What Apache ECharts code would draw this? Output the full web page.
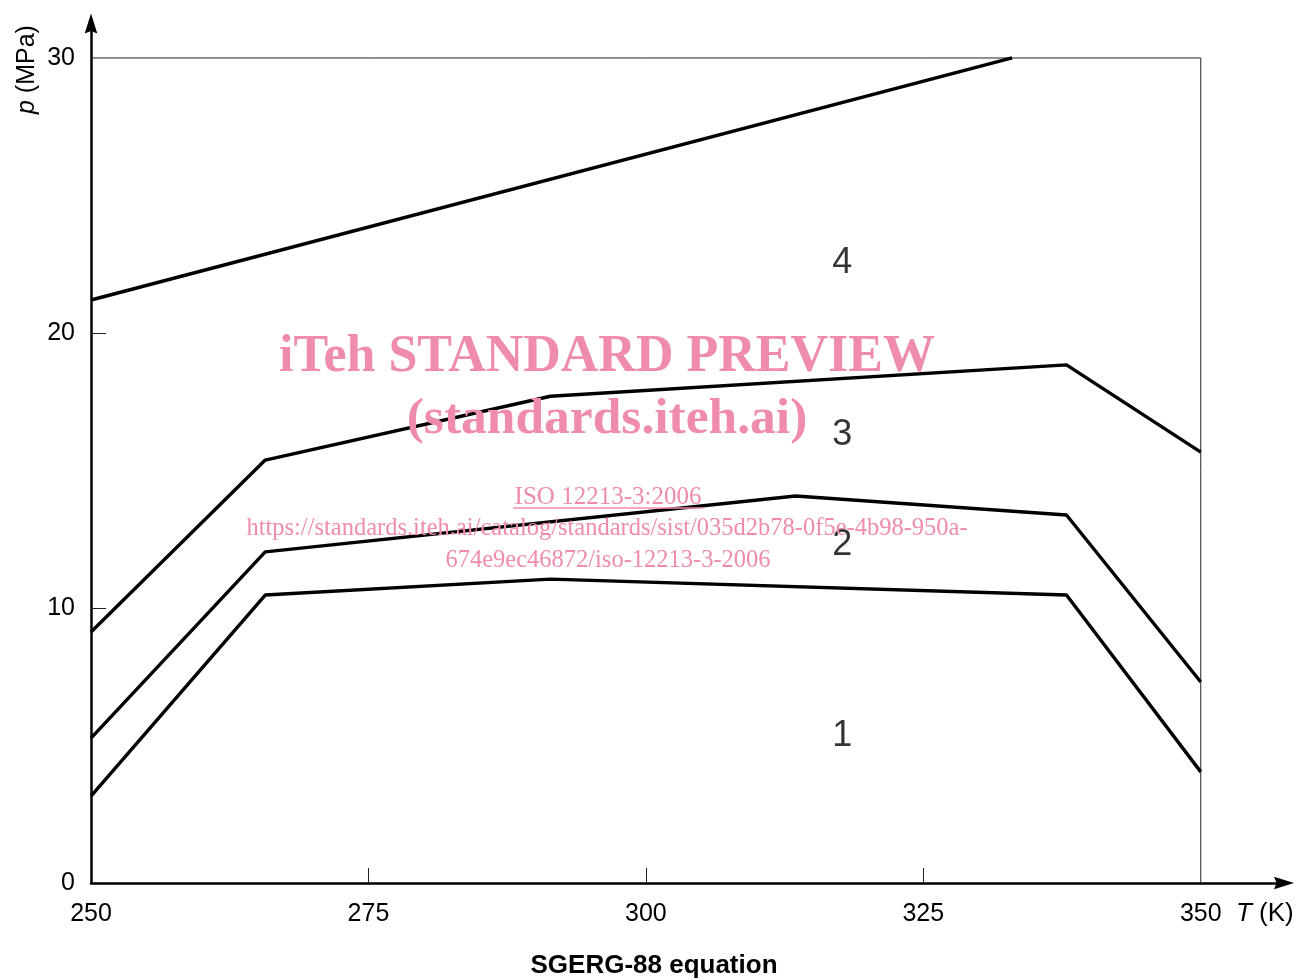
<!DOCTYPE html>
<html>
<head>
<meta charset="utf-8">
<script src="https://cdn.jsdelivr.net/npm/echarts@6/dist/echarts.min.js"></script>
<style>html,body{margin:0;padding:0;background:#fff}#c{width:1298px;height:980px}</style>
</head>
<body>
<div id="c"></div>
<script>
// Curves (T in K, p in MPa)
var curve1 = [[250, 3.16], [265.7, 10.47], [291.4, 11.05], [337.9, 10.47], [350, 4.04]];
var curve2 = [[250, 5.27], [265.7, 12.04], [313.5, 14.07], [337.9, 13.38], [350, 7.31]];
var curve3 = [[250, 9.13], [265.7, 15.38], [291.4, 17.7], [337.9, 18.84], [350, 15.67]];
var curve4 = [[250, 21.2], [333, 30]];
var frame = [[250, 30], [350, 30], [350, 0]];
var regionLabels = [[317.7, 22.55, '4'], [317.7, 16.3, '3'], [317.7, 12.3, '2'], [317.7, 5.35, '1']];
var xTickLabels = [250, 275, 300, 325, 350];
var xTicks = [275, 300, 325];
var yTickLabels = [0, 10, 20, 30];
var yTicks = [10, 20];

var chart = echarts.init(document.getElementById('c'), null, {renderer: 'canvas'});
var F = '"Liberation Sans", Arial, sans-serif';
var S = '"Liberation Serif", "Times New Roman", serif';
var pink = '#f08cab';
var arrow = 'path://M0,0 L6,19 L0,16.5 L-6,19 Z';
function lineSeries(d, w, c) {
  return {type: 'line', data: d, symbol: 'none', silent: true, animation: false,
    lineStyle: {color: c || '#000', width: w || 3.4}, z: 3};
}
chart.setOption({
  animation: false,
  backgroundColor: '#fff',
  grid: {left: 91, right: 14, top: 23.6, bottom: 97},
  xAxis: {
    type: 'value', min: 250, max: 357.5, interval: 25,
    splitLine: {show: false},
    axisLine: {show: true, lineStyle: {color: '#000', width: 2.5}, symbol: ['none', arrow], symbolSize: [13, 20]},
    axisTick: {show: true, inside: true, length: 15, customValues: xTicks, lineStyle: {color: '#222', width: 1}},
    axisLabel: {customValues: xTickLabels, margin: 19, color: '#000', fontSize: 25, fontFamily: F}
  },
  yAxis: {
    type: 'value', min: 0, max: 31.25, interval: 10,
    splitLine: {show: false},
    axisLine: {show: true, lineStyle: {color: '#000', width: 2.5}, symbol: ['none', arrow], symbolSize: [13, 20]},
    axisTick: {show: true, inside: true, length: 15, customValues: yTicks, lineStyle: {color: '#222', width: 1}},
    axisLabel: {customValues: yTickLabels, margin: 16, color: '#000', fontSize: 25, fontFamily: F}
  },
  series: [
    lineSeries(frame, 1, '#222'),
    lineSeries(curve1), lineSeries(curve2), lineSeries(curve3), lineSeries(curve4),
    {type: 'scatter', data: regionLabels, symbolSize: 0, silent: true,
      label: {show: true, position: 'inside', formatter: function (p) { return p.value[2]; },
        color: '#000', textBorderWidth: 0, fontSize: 36, fontFamily: F}}
  ],
  graphic: [
    {type: 'text', left: 1236, top: 901, style: {text: '{i|T} (K)', fontSize: 26, fontFamily: F, fill: '#000',
      rich: {i: {fontStyle: 'italic', fontSize: 26, fontFamily: F}}}},
    {type: 'text', x: 15, y: 114, rotation: Math.PI / 2, style: {text: '{i|p} (MPa)', fontSize: 25, fontFamily: F, fill: '#000',
      verticalAlign: 'top', align: 'left', rich: {i: {fontStyle: 'italic', fontSize: 25, fontFamily: F}}}},
    {type: 'text', x: 654, y: 966, style: {text: 'SGERG-88 equation', fontSize: 26, fontWeight: 'bold', fontFamily: F,
      fill: '#000', align: 'center', verticalAlign: 'middle'}},
    {type: 'text', x: 607, y: 358, z: 100, style: {text: 'iTeh STANDARD PREVIEW', fontSize: 52, fontWeight: 'bold',
      fontFamily: S, fill: pink, align: 'center', verticalAlign: 'middle'}},
    {type: 'text', x: 607, y: 420, z: 100, style: {text: '(standards.iteh.ai)', fontSize: 51.5, fontWeight: 'bold',
      fontFamily: S, fill: pink, align: 'center', verticalAlign: 'middle'}},
    {type: 'text', x: 608, y: 497, z: 100, style: {text: 'ISO 12213-3:2006', fontSize: 25,
      fontFamily: S, fill: pink, align: 'center', verticalAlign: 'middle'}},
    {type: 'line', z: 100, shape: {x1: 513, y1: 508, x2: 703, y2: 508}, style: {stroke: pink, lineWidth: 1.5}},
    {type: 'text', x: 607, y: 529, z: 100, style: {text: 'https://standards.iteh.ai/catalog/standards/sist/035d2b78-0f5e-4b98-950a-', fontSize: 24.5,
      fontFamily: S, fill: pink, align: 'center', verticalAlign: 'middle'}},
    {type: 'text', x: 608, y: 561, z: 100, style: {text: '674e9ec46872/iso-12213-3-2006', fontSize: 24.5,
      fontFamily: S, fill: pink, align: 'center', verticalAlign: 'middle'}}
  ]
});
</script>
</body>
</html>
